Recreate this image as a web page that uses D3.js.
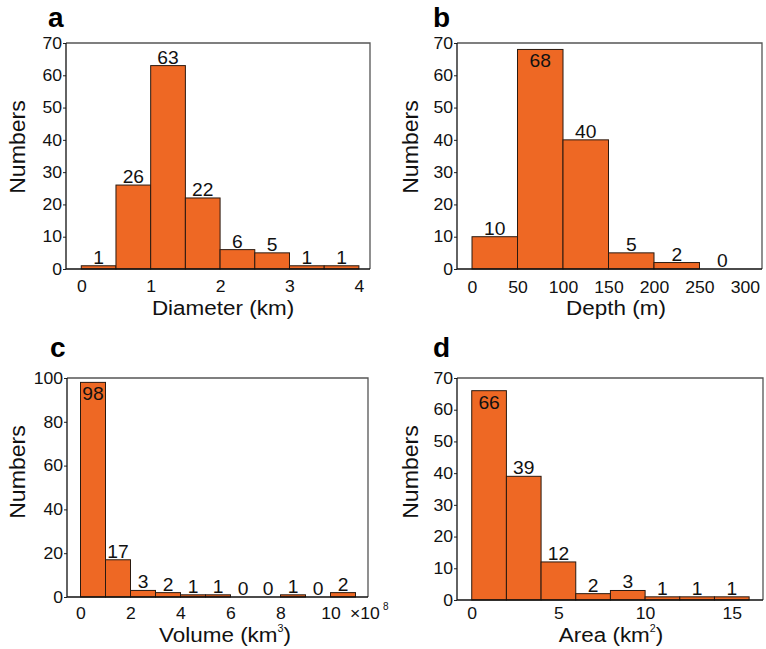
<!DOCTYPE html>
<html><head><meta charset="utf-8">
<script src="https://cdn.jsdelivr.net/npm/d3@7"></script>
<style>body{margin:0;background:#fff}svg{display:block}</style>
</head><body>
<svg id="chart" width="766" height="649"></svg>
<script>
// ---- data ----
const diameterEdges = [0, 0.5, 1, 1.5, 2, 2.5, 3, 3.5, 4];
const diameterCounts = [1, 26, 63, 22, 6, 5, 1, 1];
const diameterTicks = [0, 1, 2, 3, 4];

const depthEdges = [0, 50, 100, 150, 200, 250, 300];
const depthCounts = [10, 68, 40, 5, 2, 0];
const depthTicks = [0, 50, 100, 150, 200, 250, 300];

const volumeEdges = [0, 1, 2, 3, 4, 5, 6, 7, 8, 9, 10, 11]; // ×10^8 km³
const volumeCounts = [98, 17, 3, 2, 1, 1, 0, 0, 1, 0, 2];
const volumeTicks = [0, 2, 4, 6, 8, 10];

const areaEdges = [0, 2, 4, 6, 8, 10, 12, 14, 16];
const areaCounts = [66, 39, 12, 2, 3, 1, 1, 1];
const areaTicks = [0, 5, 10, 15];

const countTicks70 = [0, 10, 20, 30, 40, 50, 60, 70];
const countTicks100 = [0, 20, 40, 60, 80, 100];

const panelLetters = ["a", "b", "c", "d"];
const xTitles = [["Diameter (km)"], ["Depth (m)"], ["Volume (km", "3", ")"], ["Area (km", "2", ")"]];
const yTitle = "Numbers";
const volumeExponent = ["×10", "8"];

// ---- layout / style ----
const FILL = "#ee6824", BAR_STROKE = "#2a1a10", INK = "#111";
const FONT = "'Liberation Sans', Arial, Helvetica, sans-serif";
const SX = 1.1;

const panels = [
  {edges: diameterEdges, counts: diameterCounts, xticks: diameterTicks, yticks: countTicks70, yMax: 70,
   L: 66, R: 370, T: 43, B: 269, xDom: [-0.22, 4.16], xtOff: 23,
   letter: [48, 27], xt: [223, 315], yt: [25, 147]},
  {edges: depthEdges, counts: depthCounts, xticks: depthTicks, yticks: countTicks70, yMax: 70,
   L: 457, R: 762, T: 43, B: 269, xDom: [-16.5, 318.7], xtOff: 24,
   letter: [433, 27], xt: [616, 315], yt: [418, 147]},
  {edges: volumeEdges, counts: volumeCounts, xticks: volumeTicks, yticks: countTicks100, yMax: 100,
   L: 67, R: 368, T: 378, B: 597, xDom: [-0.54, 11.5], xtOff: 22,
   letter: [50, 357], xt: [225, 642], yt: [25, 472], exponent: true},
  {edges: areaEdges, counts: areaCounts, xticks: areaTicks, yticks: countTicks70, yMax: 70,
   L: 457, R: 763, T: 378, B: 600, xDom: [-0.85, 16.8], xtOff: 19,
   letter: [433, 357], xt: [611, 642], yt: [418, 472]}
];

const svg = d3.select("#chart");

function stretchText(sel, sx) {
  sel.each(function () {
    const t = d3.select(this);
    const x = +t.attr("x") || 0, y = +t.attr("y") || 0;
    t.attr("x", 0).attr("y", 0).attr("transform", `translate(${x},${y}) scale(${sx},1)`);
  });
}

panels.forEach((p, pi) => {
  const g = svg.append("g");
  const x = d3.scaleLinear().domain(p.xDom).range([p.L, p.R]);
  const y = d3.scaleLinear().domain([0, p.yMax]).range([p.B, p.T]);
  const bins = p.counts.map((c, i) => ({x0: p.edges[i], x1: p.edges[i + 1], c}));

  // bars
  g.selectAll("rect.bar").data(bins.filter(d => d.c > 0)).join("rect")
    .attr("class", "bar")
    .attr("x", d => x(d.x0)).attr("y", d => y(d.c))
    .attr("width", d => x(d.x1) - x(d.x0)).attr("height", d => y(0) - y(d.c))
    .attr("fill", FILL).attr("stroke", BAR_STROKE).attr("stroke-width", 1);

  // value labels
  g.selectAll("text.val").data(bins).join("text")
    .attr("class", "val")
    .attr("x", d => x((d.x0 + d.x1) / 2))
    .attr("y", d => (y(d.c) - 15 < p.T) ? y(d.c) + 18 : y(d.c) - 2)
    .attr("text-anchor", "middle").attr("font-family", FONT).attr("font-size", 17.5)
    .attr("fill", INK).text(d => d.c)
    .call(stretchText, SX);

  // y axis
  const ya = g.append("g").attr("transform", `translate(${p.L},0)`)
    .call(d3.axisLeft(y).tickValues(p.yticks).tickSize(3).tickPadding(1).tickFormat(d3.format("d")));
  ya.select(".domain").remove();
  ya.selectAll(".tick line").attr("stroke", "#222").attr("stroke-width", 1);
  ya.selectAll(".tick text").attr("font-family", FONT).attr("font-size", 16).attr("fill", INK)
    .attr("dy", null).attr("dominant-baseline", "central").call(stretchText, SX);

  // x axis (labels only)
  const xa = g.append("g").attr("transform", `translate(0,${p.B})`)
    .call(d3.axisBottom(x).tickValues(p.xticks).tickSize(0).tickPadding(0).tickFormat(d3.format("d")));
  xa.select(".domain").remove();
  xa.selectAll(".tick line").remove();
  xa.selectAll(".tick text").attr("font-family", FONT).attr("font-size", 16).attr("fill", INK)
    .attr("dy", null).attr("y", p.xtOff).call(stretchText, SX);

  // box
  g.append("path").attr("d", `M${p.L},${p.T}H${p.R}V${p.B}`).attr("fill", "none")
    .attr("stroke", "#555").attr("stroke-width", 1.3);
  g.append("path").attr("d", `M${p.L},${p.T}V${p.B}H${p.R}`).attr("fill", "none")
    .attr("stroke", "#111").attr("stroke-width", 1.3);

  // panel letter
  g.append("text").attr("x", p.letter[0]).attr("y", p.letter[1])
    .attr("font-family", FONT).attr("font-weight", "bold").attr("font-size", 28).attr("fill", "#000")
    .text(panelLetters[pi]);

  // x title
  const xt = g.append("text").attr("transform", `translate(${p.xt[0]},${p.xt[1]}) scale(1.07,1)`)
    .attr("text-anchor", "middle").attr("font-family", FONT).attr("font-size", 21).attr("fill", INK);
  const parts = xTitles[pi];
  xt.append("tspan").text(parts[0]);
  if (parts.length > 1) {
    xt.append("tspan").attr("font-size", 10).attr("dy", -10).text(parts[1]);
    xt.append("tspan").attr("dy", 10).text(parts[2]);
  }

  // y title
  g.append("text").attr("transform", `translate(${p.yt[0]},${p.yt[1]}) rotate(-90) scale(1.05,1)`)
    .attr("text-anchor", "middle").attr("font-family", FONT).attr("font-size", 22).attr("fill", INK)
    .text(yTitle);

  // exponent
  if (p.exponent) {
    g.append("text").attr("transform", `translate(350,${p.B + p.xtOff}) scale(${SX},1)`)
      .attr("font-family", FONT).attr("font-size", 16).attr("fill", INK).text(volumeExponent[0]);
    g.append("text").attr("x", 383).attr("y", 610)
      .attr("font-family", FONT).attr("font-size", 10).attr("fill", INK).text(volumeExponent[1]);
  }
});
</script>
</body></html>
